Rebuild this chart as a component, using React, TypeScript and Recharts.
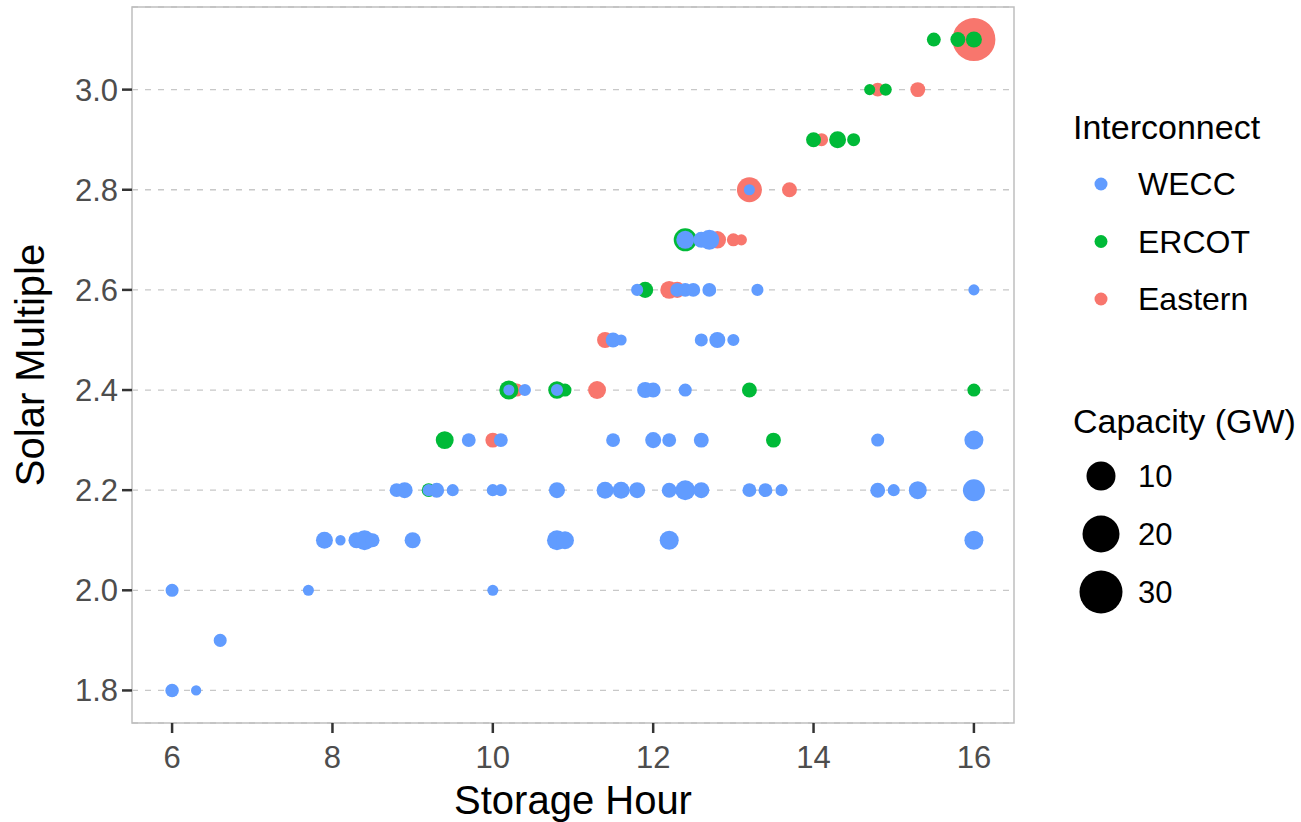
import React from 'react';
import { ScatterChart, Scatter, XAxis, YAxis, ZAxis, CartesianGrid, ReferenceArea, Label } from 'recharts';

// [storage hour, solar multiple, capacity GW]
type Row = [number, number, number];

const hourTicks = [6, 8, 10, 12, 14, 16];
const multipleTicks = [1.8, 2.0, 2.2, 2.4, 2.6, 2.8, 3.0];
const capacityBreaks = [10, 20, 30];
const interconnects = ['WECC', 'ERCOT', 'Eastern'];

const weccRows: Row[] = [
  [6.0, 1.8, 1.4], [6.3, 1.8, 0.1],
  [6.6, 1.9, 1.2],
  [6.0, 2.0, 1.2], [7.7, 2.0, 0.4], [10.0, 2.0, 0.4],
  [7.9, 2.1, 3.2], [8.1, 2.1, 0.1], [8.3, 2.1, 2.7], [8.4, 2.1, 5.1], [8.5, 2.1, 1.6],
  [9.0, 2.1, 2.7], [10.8, 2.1, 5.1], [10.9, 2.1, 3.8], [12.2, 2.1, 4.5], [16.0, 2.1, 4.5],
  [8.8, 2.2, 1.6], [8.9, 2.2, 2.7], [9.2, 2.2, 0.8], [9.3, 2.2, 2.1], [9.5, 2.2, 0.8],
  [10.0, 2.2, 0.8], [10.1, 2.2, 0.8], [10.8, 2.2, 2.7], [11.4, 2.2, 3.2], [11.6, 2.2, 3.2],
  [11.8, 2.2, 2.7], [12.2, 2.2, 2.1], [12.4, 2.2, 5.1], [12.6, 2.2, 2.7], [13.2, 2.2, 1.6],
  [13.4, 2.2, 1.6], [13.6, 2.2, 0.8], [14.8, 2.2, 2.1], [15.0, 2.2, 0.8], [15.3, 2.2, 3.8],
  [16.0, 2.2, 6.6],
  [9.7, 2.3, 1.6], [10.1, 2.3, 1.6], [11.5, 2.3, 1.6], [12.0, 2.3, 2.7], [12.2, 2.3, 1.6],
  [12.6, 2.3, 2.1], [14.8, 2.3, 1.2], [16.0, 2.3, 4.5],
  [10.2, 2.4, 0.4], [10.4, 2.4, 0.8], [10.8, 2.4, 0.8], [11.9, 2.4, 2.7], [12.0, 2.4, 2.1],
  [12.4, 2.4, 1.2],
  [11.5, 2.5, 2.1], [11.6, 2.5, 0.4], [12.6, 2.5, 1.2], [12.8, 2.5, 2.7], [13.0, 2.5, 0.8],
  [11.8, 2.6, 0.8], [12.3, 2.6, 1.6], [12.4, 2.6, 1.6], [12.5, 2.6, 1.6], [12.7, 2.6, 1.6],
  [13.3, 2.6, 0.8], [16.0, 2.6, 0.4],
  [12.4, 2.7, 3.8], [12.6, 2.7, 2.7], [12.7, 2.7, 5.1],
  [13.2, 2.8, 0.4],
];

const ercotRows: Row[] = [
  [9.2, 2.2, 1.6], [9.4, 2.3, 3.8], [13.5, 2.3, 2.1],
  [10.2, 2.4, 4.5], [10.8, 2.4, 3.5], [10.9, 2.4, 1.2], [13.2, 2.4, 2.1], [16.0, 2.4, 1.2],
  [11.9, 2.6, 2.7], [12.4, 2.7, 7.4],
  [14.0, 2.9, 2.1], [14.3, 2.9, 3.2], [14.5, 2.9, 1.2],
  [14.7, 3.0, 0.4], [14.9, 3.0, 0.8],
  [15.5, 3.1, 1.6], [15.8, 3.1, 2.1], [16.0, 3.1, 2.7],
];

const easternRows: Row[] = [
  [10.0, 2.3, 2.1], [10.3, 2.4, 1.2], [11.3, 2.4, 3.8], [11.4, 2.5, 2.7],
  [12.2, 2.6, 3.8], [12.3, 2.6, 2.7],
  [12.8, 2.7, 3.5], [13.0, 2.7, 1.2], [13.1, 2.7, 0.4],
  [13.2, 2.8, 9.0], [13.7, 2.8, 2.1], [14.1, 2.9, 1.2],
  [14.8, 3.0, 1.6], [15.3, 3.0, 2.1], [16.0, 3.1, 30.0],
];

const colors: Record<string, string> = { WECC: '#619CFF', ERCOT: '#00BA38', Eastern: '#F8766D' };

const toPoints = (rows: Row[]) => rows.map(([hour, sm, cap]) => ({ hour, sm, cap }));

const FONT = '"Liberation Sans", Arial, Helvetica, sans-serif';

const Legends = () => (
  <svg width={1301} height={822} style={{ position: 'absolute', left: 0, top: 0, pointerEvents: 'none' }}>
    <text x={1073} y={127} fontSize={34} dominantBaseline="central" fill="#000">Interconnect</text>
    {interconnects.map((name, i) => (
      <g key={name}>
        <circle cx={1101} cy={184 + i * 57.5} r={6.5} fill={colors[name]} />
        <text x={1138} y={184 + i * 57.5} fontSize={32} dominantBaseline="central" fill="#000">{name}</text>
      </g>
    ))}
    <text x={1073} y={421} fontSize={34} dominantBaseline="central" fill="#000">Capacity (GW)</text>
    {capacityBreaks.map((c, i) => (
      <g key={c}>
        <circle cx={1101} cy={476 + i * 58} r={[14.5, 18.5, 21.5][i]} fill="#000" />
        <text x={1138} y={476 + i * 58} fontSize={31} dominantBaseline="central" fill="#000">{c}</text>
      </g>
    ))}
  </svg>
);

const App: React.FC = () => {
  return (
    <div style={{ position: 'absolute', left: 0, top: 0, width: 1301, height: 822, background: '#fff', fontFamily: FONT }}>
      <ScatterChart width={1301} height={822} margin={{ top: 7, right: 287, bottom: 0, left: 0 }}>
        <CartesianGrid vertical={false} stroke="#C8C8C8" strokeWidth={1.3} strokeDasharray="6 7" />
        <XAxis
          type="number"
          dataKey="hour"
          domain={[5.5, 16.5]}
          ticks={hourTicks}
          interval={0}
          allowDataOverflow
          height={99}
          axisLine={false}
          tickLine={{ stroke: '#333333', strokeWidth: 2.5 }}
          tickSize={10}
          tickMargin={13}
          tick={{ fill: '#4D4D4D', fontSize: 31 }}
        >
          <Label value="Storage Hour" position="insideBottom" offset={8} fontSize={40} fill="#000" />
        </XAxis>
        <YAxis
          type="number"
          dataKey="sm"
          domain={[1.735, 3.165]}
          ticks={multipleTicks}
          interval={0}
          allowDataOverflow
          width={132}
          axisLine={false}
          tickLine={{ stroke: '#333333', strokeWidth: 2.5 }}
          tickSize={10}
          tickMargin={4}
          tick={{ fill: '#4D4D4D', fontSize: 31 }}
          tickFormatter={(v: number) => v.toFixed(1)}
        >
          <Label value="Solar Multiple" angle={-90} position="insideLeft" offset={30} fontSize={40} fill="#000" style={{ textAnchor: 'middle' }} />
        </YAxis>
        <ZAxis type="number" dataKey="cap" domain={[0, 30]} range={[78.5, 1452]} />
        <ReferenceArea x1={5.5} x2={16.5} y1={1.735} y2={3.165} fill="none" stroke="#BEBEBE" strokeWidth={1.5} />
        <Scatter name="Eastern" data={toPoints(easternRows)} fill={colors.Eastern} isAnimationActive={false} />
        <Scatter name="ERCOT" data={toPoints(ercotRows)} fill={colors.ERCOT} isAnimationActive={false} />
        <Scatter name="WECC" data={toPoints(weccRows)} fill={colors.WECC} isAnimationActive={false} />
      </ScatterChart>
      <Legends />
    </div>
  );
};

export default App;
